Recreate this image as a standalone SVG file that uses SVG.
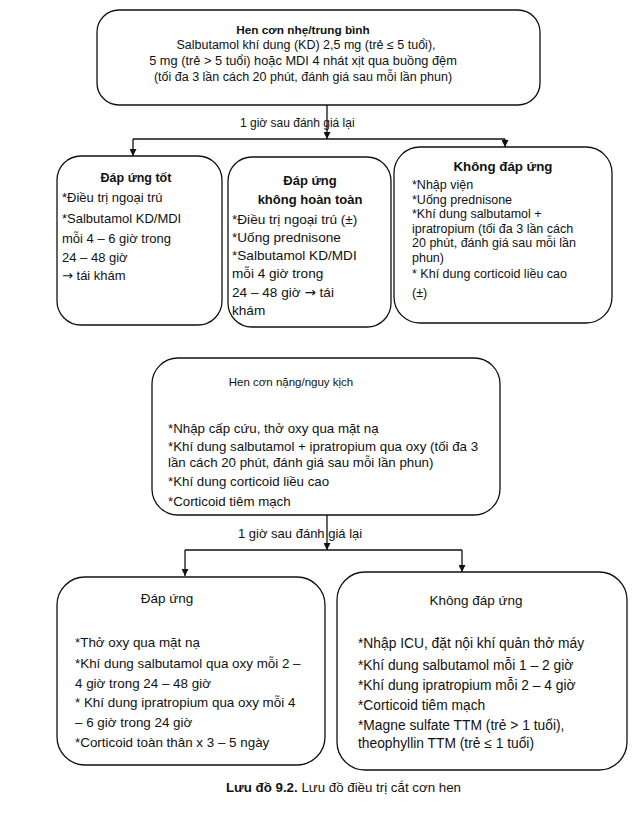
<svg xmlns="http://www.w3.org/2000/svg" width="638" height="828" viewBox="0 0 638 828">
<defs>
<marker id="arr" viewBox="0 0 10 10" refX="10" refY="5" markerWidth="7" markerHeight="7" markerUnits="userSpaceOnUse" orient="auto">
<path d="M0,0 L10,5 L0,10 z" fill="#111"/>
</marker>
<style>
.box{fill:#fff;stroke:#111;stroke-width:1.3}
.t{font-family:"Liberation Sans",Arial,sans-serif;font-size:12px;fill:#111}
.b{font-weight:bold}
.c{text-anchor:middle}
.ln{stroke:#111;stroke-width:1.3;fill:none}
.ar{font-family:"DejaVu Sans",sans-serif}
</style>
</defs>
<rect width="638" height="828" fill="#fff"/>

<g id="connectors">
<line class="ln" x1="327" y1="105" x2="327" y2="139" marker-end="url(#arr)"/>
<line class="ln" x1="133" y1="139" x2="505" y2="139"/>
<line class="ln" x1="133" y1="139" x2="133" y2="156" marker-end="url(#arr)"/>
<line class="ln" x1="505" y1="139" x2="505" y2="147" marker-end="url(#arr)"/>
<text class="t" x="240" y="127">1 giờ sau đánh giá lại</text>

<line class="ln" x1="327" y1="515" x2="327" y2="550" marker-end="url(#arr)"/>
<line class="ln" x1="185" y1="550" x2="462" y2="550"/>
<line class="ln" x1="185" y1="550" x2="185" y2="576" marker-end="url(#arr)"/>
<line class="ln" x1="462" y1="550" x2="462" y2="572" marker-end="url(#arr)"/>
<text class="t" x="238" y="538" style="font-size:13px">1 giờ sau đánh giá lại</text>
</g>

<g id="node-mild">
<rect class="box" x="97" y="10" width="443" height="95" rx="22"/>
<text class="t b c" x="303" y="34" style="font-size:11.8px">Hen cơn nhẹ/trung bình</text>
<text class="t c" x="306" y="49" style="font-size:12.5px">Salbutamol khí dung (KD) 2,5 mg (trẻ ≤ 5 tuổi),</text>
<text class="t c" x="303" y="65" style="font-size:12.8px">5 mg (trẻ &gt; 5 tuổi) hoặc MDI 4 nhát xịt qua buồng đệm</text>
<text class="t c" x="303" y="81" style="font-size:12.5px">(tối đa 3 lần cách 20 phút, đánh giá sau mỗi lần phun)</text>
</g>

<g id="node-good">
<rect class="box" x="57" y="156" width="165" height="169" rx="24"/>
<text class="t b c" x="136" y="182" style="font-size:12.5px">Đáp ứng tốt</text>
<text class="t" x="62" y="202" style="font-size:13px">*Điều trị ngoại trú</text>
<text class="t" x="62" y="223" style="font-size:13px">*Salbutamol KD/MDI</text>
<text class="t" x="62" y="243" style="font-size:13px">mỗi 4 – 6 giờ trong</text>
<text class="t" x="62" y="262" style="font-size:13px">24 – 48 giờ</text>
<text class="t" x="62" y="280" style="font-size:13px"><tspan class="ar">→</tspan> tái khám</text>
</g>

<g id="node-partial">
<rect class="box" x="228" y="157" width="163" height="170" rx="24"/>
<text class="t b c" x="310" y="185" style="font-size:13px">Đáp ứng</text>
<text class="t b c" x="310" y="204" style="font-size:13px">không hoàn toàn</text>
<text class="t" x="232" y="224" style="font-size:13.6px">*Điều trị ngoại trú (±)</text>
<text class="t" x="232" y="242" style="font-size:13.6px">*Uống prednisone</text>
<text class="t" x="232" y="260" style="font-size:13.6px">*Salbutamol KD/MDI</text>
<text class="t" x="232" y="278" style="font-size:13.6px">mỗi 4 giờ trong</text>
<text class="t" x="232" y="297" style="font-size:13.6px">24 – 48 giờ <tspan class="ar">→</tspan> tái</text>
<text class="t" x="232" y="315" style="font-size:13.6px">khám</text>
</g>

<g id="node-none">
<rect class="box" x="394" y="147" width="218" height="176" rx="26"/>
<text class="t b c" x="503" y="171" style="font-size:13.3px">Không đáp ứng</text>
<text class="t" x="412" y="189" style="font-size:12.5px">*Nhập viện</text>
<text class="t" x="412" y="203.5" style="font-size:12.5px">*Uống prednisone</text>
<text class="t" x="412" y="218" style="font-size:12.5px">*Khí dung salbutamol +</text>
<text class="t" x="412" y="232.5" style="font-size:12.5px">ipratropium (tối đa 3 lần cách</text>
<text class="t" x="412" y="247" style="font-size:12.5px">20 phút, đánh giá sau mỗi lần</text>
<text class="t" x="412" y="261.5" style="font-size:12.5px">phun)</text>
<text class="t" x="412" y="278" style="font-size:12.5px">* Khí dung corticoid liều cao</text>
<text class="t" x="412" y="297" style="font-size:12.5px">(±)</text>
</g>

<g id="node-severe">
<rect class="box" x="152" y="358" width="348" height="157" rx="26"/>
<text class="t c" x="291" y="386" style="font-size:11.5px">Hen cơn nặng/nguy kịch</text>
<text class="t" x="168" y="433" style="font-size:13.3px">*Nhập cấp cứu, thở oxy qua mặt nạ</text>
<text class="t" x="168" y="451" style="font-size:13.3px">*Khí dung salbutamol + ipratropium qua oxy (tối đa 3</text>
<text class="t" x="168" y="467" style="font-size:13.3px">lần cách 20 phút, đánh giá sau mỗi lần phun)</text>
<text class="t" x="168" y="486" style="font-size:13.3px">*Khí dung corticoid liều cao</text>
<text class="t" x="168" y="506" style="font-size:13.3px">*Corticoid tiêm mạch</text>
</g>

<g id="node-resp">
<rect class="box" x="57" y="577" width="268" height="188" rx="28"/>
<text class="t c" x="167" y="603" style="font-size:13.5px">Đáp ứng</text>
<text class="t" x="75" y="647" style="font-size:13.4px">*Thở oxy qua mặt nạ</text>
<text class="t" x="75" y="668" style="font-size:13.4px">*Khí dung salbutamol qua oxy mỗi 2 –</text>
<text class="t" x="75" y="688" style="font-size:13.4px">4 giờ trong 24 – 48 giờ</text>
<text class="t" x="75" y="707" style="font-size:13.4px">* Khí dung ipratropium qua oxy mỗi 4</text>
<text class="t" x="75" y="727" style="font-size:13.4px">– 6 giờ trong 24 giờ</text>
<text class="t" x="75" y="747" style="font-size:13.4px">*Corticoid toàn thân x 3 – 5 ngày</text>
</g>

<g id="node-noresp">
<rect class="box" x="337" y="572" width="290" height="198" rx="28"/>
<text class="t c" x="476" y="605" style="font-size:13.5px">Không đáp ứng</text>
<text class="t" x="358" y="648" style="font-size:13.8px">*Nhập ICU, đặt nội khí quản thở máy</text>
<text class="t" x="358" y="670" style="font-size:13.8px">*Khí dung salbutamol mỗi 1 – 2 giờ</text>
<text class="t" x="358" y="690" style="font-size:13.8px">*Khí dung ipratropium mỗi 2 – 4 giờ</text>
<text class="t" x="358" y="710" style="font-size:13.8px">*Corticoid tiêm mạch</text>
<text class="t" x="358" y="730" style="font-size:13.8px">*Magne sulfate TTM (trẻ &gt; 1 tuổi),</text>
<text class="t" x="358" y="748" style="font-size:13.8px">theophyllin TTM (trẻ ≤ 1 tuổi)</text>
</g>

<text class="t" x="226" y="792" style="font-size:13.3px"><tspan class="b">Lưu đồ 9.2.</tspan> Lưu đồ điều trị cắt cơn hen</text>
</svg>
